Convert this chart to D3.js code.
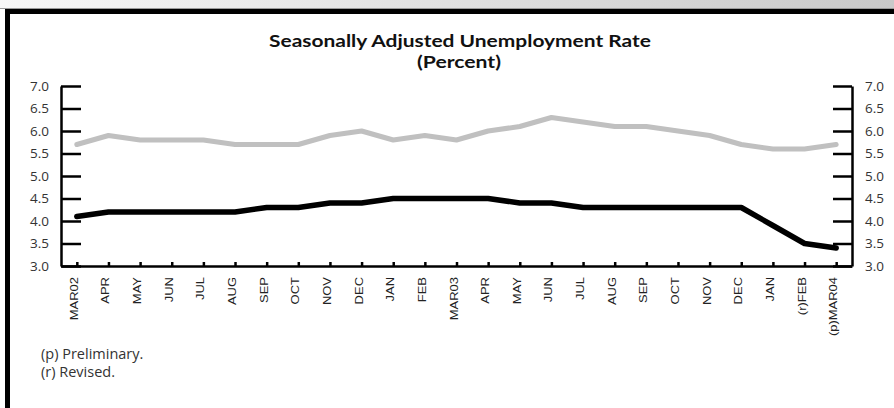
<!DOCTYPE html>
<html>
<head>
<meta charset="utf-8">
<script src="https://cdn.jsdelivr.net/npm/d3@7"></script>
<style>
  body { margin: 0; background: #fff; }
  svg { display: block; }
</style>
</head>
<body>
<div id="chart"></div>
<script>
// month labels, MAR 2002 .. MAR 2004
var months = ["MAR02", "APR", "MAY", "JUN", "JUL", "AUG", "SEP", "OCT", "NOV", "DEC", "JAN", "FEB",
  "MAR03", "APR", "MAY", "JUN", "JUL", "AUG", "SEP", "OCT", "NOV", "DEC", "JAN", "(r)FEB", "(p)MAR04"];

// upper grey line
var greySeries = [5.7, 5.9, 5.8, 5.8, 5.8, 5.7, 5.7, 5.7, 5.9, 6.0, 5.8, 5.9,
  5.8, 6.0, 6.1, 6.3, 6.2, 6.1, 6.1, 6.0, 5.9, 5.7, 5.6, 5.6, 5.7];

// lower black line
var blackSeries = [4.1, 4.2, 4.2, 4.2, 4.2, 4.2, 4.3, 4.3, 4.4, 4.4, 4.5, 4.5,
  4.5, 4.5, 4.4, 4.4, 4.3, 4.3, 4.3, 4.3, 4.3, 4.3, 3.9, 3.5, 3.4];

var yTicks = [3.0, 3.5, 4.0, 4.5, 5.0, 5.5, 6.0, 6.5, 7.0];

var titleLines = ["Seasonally Adjusted Unemployment Rate", "(Percent)"];
var notes = ["(p) Preliminary.", "(r) Revised."];

var W = 894, H = 408;
var plot = {left: 61, right: 852, top: 86, bottom: 266};

var svg = d3.select("#chart").append("svg")
  .attr("width", W)
  .attr("height", H);

// frame: grey strip at the top, then black bands
var grad = svg.append("defs").append("linearGradient")
  .attr("id", "topgrad")
  .attr("x1", "0%").attr("x2", "100%");
grad.append("stop").attr("offset", "0%").attr("stop-color", "#f7f7f7");
grad.append("stop").attr("offset", "100%").attr("stop-color", "#c9c9c9");

svg.append("rect").attr("x", 0).attr("y", 0).attr("width", W).attr("height", 9)
  .attr("fill", "url(#topgrad)");
svg.append("rect").attr("x", 0).attr("y", 8).attr("width", W).attr("height", 1)
  .attr("fill", "#9a9a9a");
svg.append("rect").attr("x", 5).attr("y", 9).attr("width", W - 5).attr("height", 5)
  .attr("fill", "#000");
svg.append("rect").attr("x", 5).attr("y", 9).attr("width", 5).attr("height", H - 9)
  .attr("fill", "#000");

// scales
var idx = d3.range(months.length);
var x = d3.scalePoint()
  .domain(idx)
  .range([plot.left, plot.right])
  .padding(0.5);

var y = d3.scaleLinear()
  .domain([3, 7])
  .range([plot.bottom, plot.top]);

// title
svg.selectAll(".title")
  .data(titleLines)
  .join("text")
  .attr("class", "title")
  .attr("x", function(d, i) { return i ? 459 : 460; })
  .attr("y", function(d, i) { return i ? 68 : 47; })
  .attr("text-anchor", "middle")
  .attr("textLength", function(d, i) { return i ? 84 : 382; })
  .attr("lengthAdjust", "spacingAndGlyphs")
  .style("font-family", "Lato, 'Open Sans', sans-serif")
  .style("font-weight", "bold")
  .style("font-size", "17.5px")
  .style("fill", "#111")
  .text(function(d) { return d; });

// axes
var leftAxis = svg.append("g")
  .attr("transform", "translate(" + plot.left + ",0)")
  .call(d3.axisLeft(y).tickValues(yTicks).tickFormat(d3.format(".1f"))
    .tickSizeInner(-20).tickSizeOuter(0).tickPadding(12));

var rightAxis = svg.append("g")
  .attr("transform", "translate(" + plot.right + ",0)")
  .call(d3.axisRight(y).tickValues(yTicks).tickFormat(d3.format(".1f"))
    .tickSizeInner(-19).tickSizeOuter(0).tickPadding(13));

var bottomAxis = svg.append("g")
  .attr("transform", "translate(0," + plot.bottom + ")")
  .call(d3.axisBottom(x).tickFormat(function(i) { return months[i]; })
    .tickSizeInner(-4).tickSizeOuter(0));

[leftAxis, rightAxis].forEach(function(a) {
  a.selectAll("text")
    .style("font-family", "'Open Sans', sans-serif")
    .style("font-size", "13.5px")
    .style("fill", "#333");
});

bottomAxis.selectAll("text")
  .attr("x", null).attr("y", null).attr("dy", null)
  .attr("text-anchor", "end")
  .attr("transform", "translate(0.5,11) rotate(-90) scale(1.18,1)")
  .style("font-family", "'Liberation Sans', Arial, sans-serif")
  .style("font-size", "11px")
  .style("fill", "#222");

[leftAxis, rightAxis, bottomAxis].forEach(function(a) {
  a.select(".domain").attr("stroke", "#000").attr("stroke-width", 2.5);
  a.selectAll(".tick line").attr("stroke", "#000").attr("stroke-width", 2.5);
});

// lines
var line = d3.line()
  .x(function(d, i) { return x(i); })
  .y(function(d) { return y(d); });

svg.append("path")
  .datum(greySeries)
  .attr("d", line)
  .attr("fill", "none")
  .attr("stroke", "#c0c0c0")
  .attr("stroke-width", 5)
  .attr("stroke-linejoin", "round")
  .attr("stroke-linecap", "round");

svg.append("path")
  .datum(blackSeries)
  .attr("d", line)
  .attr("fill", "none")
  .attr("stroke", "#000")
  .attr("stroke-width", 5.5)
  .attr("stroke-linejoin", "round")
  .attr("stroke-linecap", "round");

// footnotes
svg.selectAll(".note")
  .data(notes)
  .join("text")
  .attr("class", "note")
  .attr("x", 41)
  .attr("y", function(d, i) { return 359 + i * 18; })
  .style("font-family", "'Open Sans', sans-serif")
  .style("font-size", "14.5px")
  .style("fill", "#333")
  .text(function(d) { return d; });
</script>
</body>
</html>
